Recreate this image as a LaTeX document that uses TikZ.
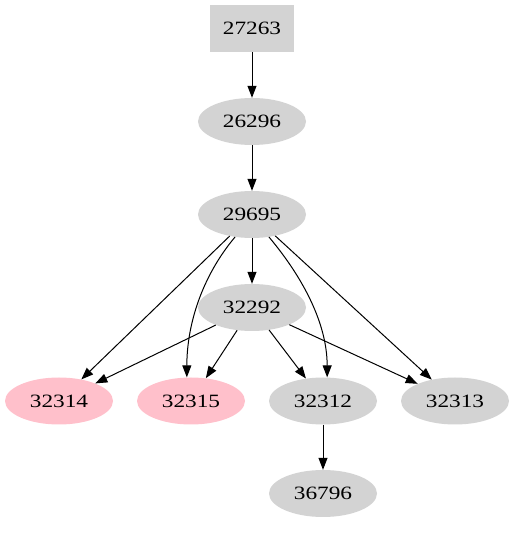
\documentclass[tikz,border=0pt]{standalone}
\usepackage{fontspec}
\setmainfont{Liberation Serif}
\usetikzlibrary{shapes.geometric,arrows.meta}
\definecolor{nodegray}{HTML}{D3D3D3}
\definecolor{nodepink}{HTML}{FFC0CB}
\newcommand{\lbl}[1]{\scalebox{1.24}[1]{\fontsize{18.8}{20}\selectfont #1}}
\tikzset{
  gnode/.style={ellipse, fill=nodegray, minimum width=108pt, minimum height=47pt, inner sep=0pt},
  pnode/.style={gnode, fill=nodepink},
  boxnode/.style={rectangle, fill=nodegray, minimum width=84pt, minimum height=47pt, inner sep=0pt},
  edge/.style={-{Triangle[length=12pt,width=9pt]}, line width=1pt, black}
}
\begin{document}
\begin{tikzpicture}[x=1pt,y=1pt]
\useasboundingbox (0,0) rectangle (514,539);
\node[boxnode] (a) at (252,510.5) {\lbl{27263}};
\node[gnode] (b) at (252,417.5) {\lbl{26296}};
\node[gnode] (c) at (252,324.5) {\lbl{29695}};
\node[gnode] (d) at (252,231.5) {\lbl{32292}};
\node[pnode] (e) at (59,138) {\lbl{32314}};
\node[pnode] (f) at (191,138) {\lbl{32315}};
\node[gnode] (g) at (323,138) {\lbl{32312}};
\node[gnode] (h) at (455,138) {\lbl{32313}};
\node[gnode] (i) at (323,45.5) {\lbl{36796}};
\draw[edge] (a) -- (b);
\draw[edge] (b) -- (c);
\draw[edge] (c) -- (d);
\draw[edge] (c) -- (e);
\draw[edge] (c.-127) to[out=-130,in=90,looseness=0.9] (f.100);
\draw[edge] (c.-53) to[out=-50,in=90,looseness=0.9] (g.80);
\draw[edge] (c) -- (h);
\draw[edge] (d) -- (e);
\draw[edge] (d) -- (f);
\draw[edge] (d) -- (g);
\draw[edge] (d) -- (h);
\draw[edge] (g) -- (i);
\end{tikzpicture}
\end{document}
